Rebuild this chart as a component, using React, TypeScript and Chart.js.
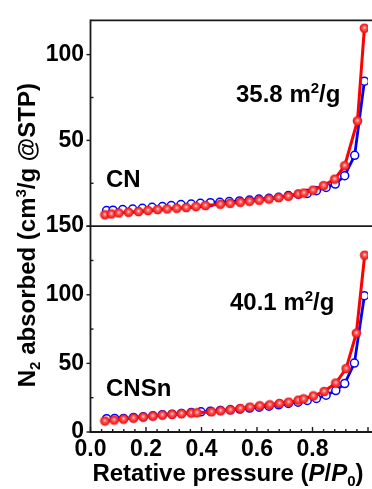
import React, { useEffect, useRef } from 'react';
import { Chart, registerables } from 'chart.js';

Chart.register(...registerables);

// ---------- data ----------
const xTickValues = [0, 0.2, 0.4, 0.6, 0.8];
const yTopTickValues = [0, 50, 100];
const yBottomTickValues = [0, 50, 100, 150];
const yTopMinor = [25, 75];
const yBottomMinor = [25, 75, 125];

// CN adsorption (blue, open)
const cnAdsP = [0.058, 0.081, 0.116, 0.152, 0.187, 0.222, 0.259, 0.291, 0.326, 0.363, 0.396, 0.432, 0.466, 0.500, 0.537, 0.573, 0.607, 0.643, 0.678, 0.713, 0.749, 0.781, 0.814, 0.849, 0.882, 0.916, 0.952, 0.987];
const cnAdsV = [9.1, 9.3, 9.7, 10.0, 10.4, 11.0, 11.4, 12.0, 12.6, 12.9, 13.3, 13.7, 13.9, 14.3, 14.7, 15.2, 15.8, 16.2, 16.8, 17.8, 18.6, 19.1, 20.7, 22.6, 24.5, 29.4, 41.3, 84.5];
// CN desorption (red, filled)
const cnDesP = [0.052, 0.075, 0.102, 0.137, 0.173, 0.207, 0.242, 0.276, 0.311, 0.345, 0.380, 0.414, 0.468, 0.503, 0.540, 0.573, 0.608, 0.643, 0.678, 0.713, 0.749, 0.769, 0.802, 0.840, 0.880, 0.916, 0.962, 0.987];
const cnDesV = [6.6, 7.1, 7.7, 8.1, 8.5, 9.1, 9.7, 10.0, 10.4, 10.8, 11.4, 12.0, 12.8, 13.3, 13.9, 14.5, 15.1, 15.8, 16.6, 17.4, 18.7, 19.3, 21.0, 23.6, 27.4, 35.2, 61.3, 115.4];
// CNSn adsorption (blue, open)
const cnsnAdsP = [0.058, 0.087, 0.119, 0.155, 0.190, 0.225, 0.259, 0.294, 0.328, 0.363, 0.398, 0.432, 0.468, 0.504, 0.538, 0.573, 0.608, 0.643, 0.678, 0.713, 0.748, 0.781, 0.814, 0.849, 0.884, 0.916, 0.951, 0.987];
const cnsnAdsV = [9.7, 9.9, 9.9, 10.6, 11.1, 11.8, 12.6, 13.0, 13.5, 14.2, 14.7, 15.2, 15.7, 16.2, 16.7, 17.4, 18.1, 18.8, 19.8, 20.8, 21.7, 23.0, 24.4, 26.8, 30.2, 35.3, 50.2, 99.3];
// CNSn desorption (red, filled)
const cnsnDesP = [0.052, 0.085, 0.119, 0.155, 0.190, 0.225, 0.259, 0.294, 0.328, 0.363, 0.384, 0.436, 0.469, 0.504, 0.540, 0.575, 0.610, 0.646, 0.681, 0.714, 0.749, 0.768, 0.803, 0.842, 0.884, 0.921, 0.958, 0.988];
const cnsnDesV = [8.0, 8.7, 9.4, 10.1, 10.9, 11.6, 12.3, 12.8, 13.3, 13.8, 14.0, 14.7, 15.4, 16.1, 17.1, 18.1, 19.1, 19.8, 20.8, 21.7, 23.2, 24.1, 26.3, 29.5, 35.7, 46.2, 72.0, 128.8];

const FONT = '"Liberation Sans", Arial, Helvetica, sans-serif';
const BLUE = '#0000ff';
const RED = '#ff0000';

const pts = (xs: number[], ys: number[]) => xs.map((x, i) => ({ x, y: ys[i] }));

function makeRedDot(): HTMLCanvasElement {
  const c = document.createElement('canvas');
  const s = 11;
  c.width = s;
  c.height = s;
  const g = c.getContext('2d')!;
  const grad = g.createRadialGradient(5.5, 4.8, 0.2, 5.5, 5.5, 5);
  grad.addColorStop(0, '#ffe0e0');
  grad.addColorStop(0.3, '#ff6060');
  grad.addColorStop(1, '#e80000');
  g.fillStyle = grad;
  g.beginPath();
  g.arc(5.5, 5.5, 4.8, 0, Math.PI * 2);
  g.fill();
  return c;
}

type Seg = { t: string; size: number; dy?: number; italic?: boolean };

function drawRich(ctx: CanvasRenderingContext2D, segs: Seg[], cx: number, y: number, align: 'center' | 'left') {
  const fontOf = (s: Seg) => `${s.italic ? 'italic ' : ''}bold ${s.size}px ${FONT}`;
  let total = 0;
  const widths = segs.map((s) => {
    ctx.font = fontOf(s);
    const w = ctx.measureText(s.t).width;
    total += w;
    return w;
  });
  let x = align === 'center' ? cx - total / 2 : cx;
  ctx.textAlign = 'left';
  ctx.textBaseline = 'alphabetic';
  segs.forEach((s, i) => {
    ctx.font = fontOf(s);
    ctx.fillText(s.t, x, y + (s.dy || 0));
    x += widths[i];
  });
}

const framePlugin = {
  id: 'frame',
  afterDraw(chart: any) {
    const { ctx, chartArea: ca, scales } = chart;
    const xs = scales.x, yT = scales.yT, yB = scales.yB;
    const L = ca.left, R = ca.right + 6;
    const line = (x1: number, y1: number, x2: number, y2: number) => {
      ctx.beginPath();
      ctx.moveTo(x1, y1);
      ctx.lineTo(x2, y2);
      ctx.stroke();
    };
    ctx.save();
    ctx.strokeStyle = '#1a1a1a';
    ctx.lineWidth = 1.8;
    line(L, ca.top, R, ca.top);
    line(L, yT.bottom, R, yT.bottom);
    line(L, ca.bottom, R, ca.bottom);
    line(L, ca.top - 0.9, L, ca.bottom + 0.9);

    ctx.lineWidth = 1.4;
    yTopTickValues.forEach((v) => { const p = yT.getPixelForValue(v); line(L - 4, p, L, p); });
    yBottomTickValues.forEach((v) => { const p = yB.getPixelForValue(v); line(L - 4, p, L, p); });
    yTopMinor.forEach((v) => { const p = yT.getPixelForValue(v); line(L, p, L + 3, p); });
    yBottomMinor.forEach((v) => { const p = yB.getPixelForValue(v); line(L, p, L + 3, p); });
    for (let i = 0; i <= 25; i++) {
      const v = i * 0.04;
      const p = xs.getPixelForValue(v);
      const major = i % 5 === 0;
      line(p, ca.bottom, p, ca.bottom - (major ? 5 : 3));
    }

    ctx.fillStyle = '#000';
    // annotations
    drawRich(ctx, [{ t: 'CN', size: 24 }], 106, 187, 'left');
    drawRich(ctx, [{ t: '35.8 m', size: 24 }, { t: '2', size: 15, dy: -9 }, { t: '/g', size: 24 }], 236, 102, 'left');
    drawRich(ctx, [{ t: 'CNSn', size: 24 }], 106, 396, 'left');
    drawRich(ctx, [{ t: '40.1 m', size: 24 }, { t: '2', size: 15, dy: -9 }, { t: '/g', size: 24 }], 230, 310, 'left');

    // x title
    drawRich(ctx, [
      { t: 'Retative pressure (', size: 24 },
      { t: 'P', size: 24, italic: true },
      { t: '/', size: 24 },
      { t: 'P', size: 24, italic: true },
      { t: '0', size: 15, dy: 5 },
      { t: ')', size: 24 },
    ], 228, 481, 'center');

    // y title
    ctx.save();
    ctx.translate(35, (yT.top + yB.bottom) / 2 + 9);
    ctx.rotate(-Math.PI / 2);
    drawRich(ctx, [
      { t: 'N', size: 24 },
      { t: '2', size: 15, dy: 5 },
      { t: ' absorbed (cm', size: 24 },
      { t: '3', size: 15, dy: -9 },
      { t: '/g @STP)', size: 24 },
    ], 0, 0, 'center');
    ctx.restore();
    ctx.restore();
  },
};

export default function App() {
  const ref = useRef<HTMLCanvasElement>(null);
  useEffect(() => {
    const redDot = makeRedDot();
    const tickFont = { family: FONT, size: 23, weight: 'bold' as const };
    const blueDs = (data: any[], yAxisID: string) => ({
      data, yAxisID, xAxisID: 'x',
      borderColor: BLUE, borderWidth: 2.8,
      pointRadius: 4, pointBorderWidth: 1.5, pointBorderColor: BLUE, pointBackgroundColor: '#fff',
      tension: 0, order: 2,
    });
    const redDs = (data: any[], yAxisID: string) => ({
      data, yAxisID, xAxisID: 'x',
      borderColor: RED, borderWidth: 3,
      pointStyle: redDot, pointRadius: 5,
      tension: 0, order: 1,
    });
    const chart = new Chart(ref.current!, {
      type: 'line',
      data: {
        datasets: [
          redDs(pts(cnDesP, cnDesV), 'yT'),
          redDs(pts(cnsnDesP, cnsnDesV), 'yB'),
          blueDs(pts(cnAdsP, cnAdsV), 'yT'),
          blueDs(pts(cnsnAdsP, cnsnAdsV), 'yB'),
        ] as any,
      },
      options: {
        responsive: false,
        animation: false,
        devicePixelRatio: 1,
        layout: { padding: { top: 17, left: 0, right: 3.5, bottom: 0 } },
        plugins: { legend: { display: false }, tooltip: { enabled: false } },
        scales: {
          x: {
            type: 'linear', position: 'bottom', min: 0, max: 1,
            grid: { display: false, drawTicks: false }, border: { display: false },
            ticks: { font: tickFont, color: '#000', padding: 4, maxRotation: 0, autoSkip: false, callback: (v: any) => Number(v).toFixed(1) },
            afterBuildTicks: (s: any) => { s.ticks = xTickValues.map((value) => ({ value })); },
            afterFit: (s: any) => { s.height = 57; },
          },
          yB: {
            type: 'linear', position: 'left', stack: 'panels', stackWeight: 1, min: 0, max: 150,
            grid: { display: false, drawTicks: false }, border: { display: false },
            ticks: { font: tickFont, color: '#000', padding: 6.5, autoSkip: false },
            afterBuildTicks: (s: any) => { s.ticks = yBottomTickValues.map((value) => ({ value })); },
            afterFit: (s: any) => { s.width = 90.5; },
          },
          yT: {
            type: 'linear', position: 'left', stack: 'panels', stackWeight: 1, min: 0, max: 120,
            grid: { display: false, drawTicks: false }, border: { display: false },
            ticks: { font: tickFont, color: '#000', padding: 6.5, autoSkip: false, callback: (v: any) => (v === 0 ? '' : String(v)) },
            afterBuildTicks: (s: any) => { s.ticks = yTopTickValues.map((value) => ({ value })); },
            afterFit: (s: any) => { s.width = 90.5; },
          },
        },
      } as any,
      plugins: [framePlugin],
    });
    return () => chart.destroy();
  }, []);
  return (
    <div style={{ position: 'fixed', left: 0, top: 0, width: 372, height: 489, overflow: 'hidden', background: '#fff' }}>
      <canvas ref={ref} width={376} height={489} style={{ display: 'block', width: 376, height: 489 }} />
    </div>
  );
}
